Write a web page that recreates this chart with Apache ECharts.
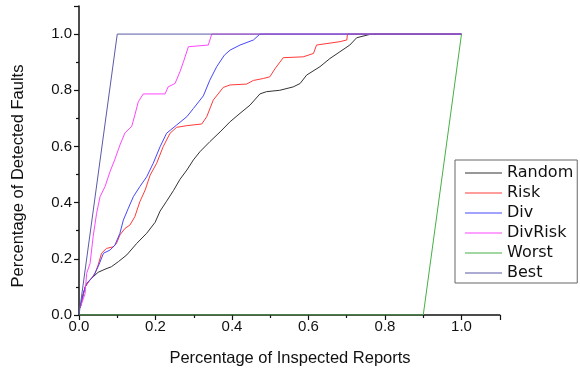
<!DOCTYPE html>
<html><head><meta charset="utf-8">
<script src="https://cdn.jsdelivr.net/npm/echarts@6/dist/echarts.min.js"></script>
<style>html,body{margin:0;padding:0;background:#fff}#c{width:580px;height:370px}</style>
</head><body><div id="c"></div>
<script>
const seriesNames = ['Random', 'Risk', 'Div', 'DivRisk', 'Worst', 'Best'];
const seriesColors = ['#333333', '#ff3a3a', '#4646ff', '#ff46ff', '#46b046', '#5a5aa8'];
const xTitle = 'Percentage of Inspected Reports';
const yTitle = 'Percentage of Detected Faults';

const randomData = [[0.003,0.025],[0.016,0.10],[0.024,0.118],[0.037,0.136],[0.05,0.152],[0.068,0.163],[0.085,0.172],[0.103,0.19],[0.125,0.214],[0.151,0.255],[0.177,0.291],[0.199,0.33],[0.212,0.37],[0.229,0.405],[0.247,0.443],[0.264,0.483],[0.282,0.516],[0.299,0.552],[0.316,0.581],[0.342,0.617],[0.369,0.652],[0.395,0.688],[0.421,0.718],[0.447,0.747],[0.473,0.787],[0.49,0.795],[0.525,0.80],[0.56,0.812],[0.578,0.824],[0.595,0.854],[0.63,0.884],[0.656,0.913],[0.682,0.937],[0.708,0.961],[0.726,0.987],[0.761,0.999],[0.775,1.0],[1.0,1.0]];
const riskData = [[0.003,0.025],[0.016,0.10],[0.029,0.125],[0.042,0.148],[0.05,0.178],[0.059,0.22],[0.072,0.237],[0.09,0.243],[0.098,0.255],[0.107,0.285],[0.12,0.308],[0.133,0.32],[0.146,0.35],[0.159,0.403],[0.173,0.445],[0.186,0.498],[0.203,0.54],[0.22,0.599],[0.238,0.647],[0.255,0.668],[0.282,0.674],[0.321,0.68],[0.334,0.706],[0.351,0.765],[0.377,0.81],[0.395,0.819],[0.438,0.822],[0.456,0.835],[0.482,0.842],[0.499,0.848],[0.512,0.876],[0.534,0.916],[0.586,0.919],[0.613,0.931],[0.621,0.961],[0.682,0.973],[0.7,0.979],[0.702,1.0],[1.0,1.0]];
const divData = [[0.003,0.025],[0.011,0.077],[0.02,0.113],[0.037,0.136],[0.05,0.172],[0.064,0.22],[0.081,0.231],[0.094,0.249],[0.107,0.291],[0.116,0.338],[0.129,0.38],[0.142,0.421],[0.159,0.457],[0.177,0.492],[0.194,0.54],[0.212,0.599],[0.229,0.647],[0.255,0.676],[0.282,0.706],[0.299,0.735],[0.325,0.78],[0.342,0.836],[0.36,0.884],[0.38,0.925],[0.395,0.943],[0.421,0.961],[0.456,0.979],[0.473,1.0],[1.0,1.0]];
const divRiskData = [[0.003,0.025],[0.016,0.077],[0.02,0.148],[0.029,0.184],[0.037,0.279],[0.046,0.362],[0.055,0.421],[0.068,0.457],[0.081,0.51],[0.094,0.555],[0.107,0.605],[0.12,0.648],[0.138,0.672],[0.146,0.712],[0.155,0.759],[0.168,0.787],[0.225,0.787],[0.233,0.812],[0.251,0.824],[0.264,0.866],[0.273,0.901],[0.286,0.955],[0.29,0.961],[0.338,0.961],[0.347,1.0],[1.0,1.0]];
const worstData = [[0,0],[0.9,0],[1.0,1.0]];
const bestData = [[0,0],[0.1,1.0],[1.0,1.0]];

const allData = [randomData, riskData, divData, divRiskData, worstData, bestData];

const chart = echarts.init(document.getElementById('c'), null, {renderer: 'canvas'});
const fmt = v => Number(v).toFixed(1);
const axisCommon = {
  type: 'value', min: 0, max: 1.1, interval: 0.2,
  axisLine: {show: true, lineStyle: {color: '#111', width: 1.5}},
  axisTick: {show: true, length: 5, lineStyle: {color: '#111', width: 1.2}},
  minorTick: {show: true, splitNumber: 2, length: 3, lineStyle: {color: '#111', width: 1.2}},
  splitLine: {show: false},
  axisLabel: {showMaxLabel: false, formatter: fmt, color: '#111', fontSize: 15, fontFamily: 'Liberation Sans'}
};
chart.setOption({
  animation: false,
  backgroundColor: '#fff',
  grid: {left: 79, top: 6, width: 420.75, height: 309},
  xAxis: Object.assign({}, axisCommon, {axisLabel: Object.assign({}, axisCommon.axisLabel, {margin: 4})}),
  yAxis: Object.assign({}, axisCommon, {axisLabel: Object.assign({}, axisCommon.axisLabel, {margin: 7})}),
  legend: {
    orient: 'vertical', left: 455, top: 160,
    padding: [3, 4, 0, 10], itemGap: 0, itemWidth: 37, itemHeight: 1, icon: 'rect',
    backgroundColor: '#fff', borderColor: '#666', borderWidth: 1,
    textStyle: {fontSize: 16, fontFamily: 'DejaVu Sans', color: '#111', lineHeight: 20},
    data: seriesNames
  },
  graphic: [
    {type: 'text', left: 'center', x: 0, style: {text: xTitle, x: 289, y: 358, align: 'center', verticalAlign: 'middle', font: '16.5px "Liberation Sans"', fill: '#111'}},
    {type: 'text', x: 18, y: 176, rotation: Math.PI / 2, style: {text: yTitle, x: 0, y: 0, align: 'center', verticalAlign: 'middle', font: '16.5px "Liberation Sans"', fill: '#111'}}
  ],
  series: seriesNames.map((n, i) => ({
    name: n, type: 'line', data: allData[i], showSymbol: false, symbol: 'none',
    color: seriesColors[i], lineStyle: {width: 1, color: seriesColors[i]},
    itemStyle: {color: seriesColors[i]}, z: 2 + i
  }))
});
</script>
</body></html>
